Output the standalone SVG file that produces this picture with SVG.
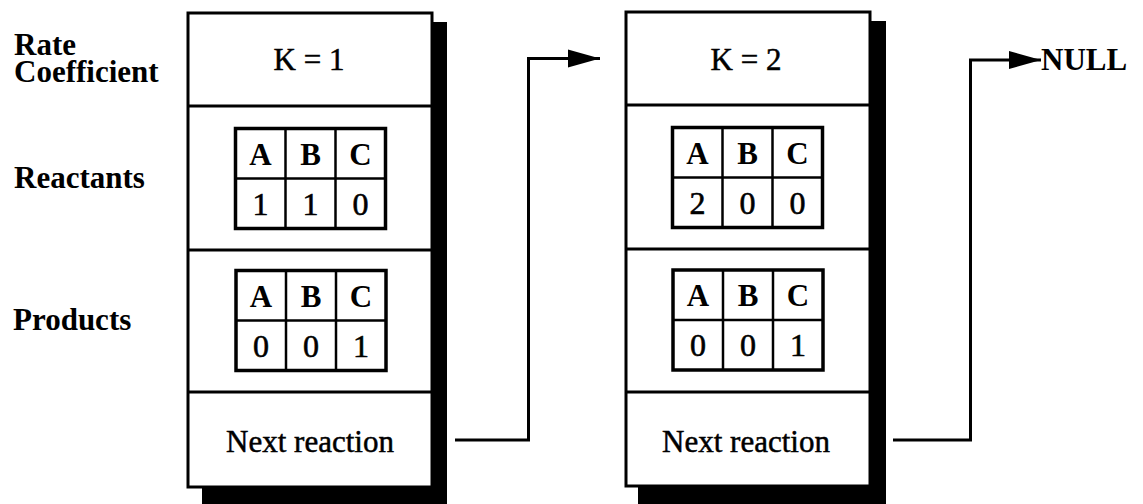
<svg xmlns="http://www.w3.org/2000/svg" width="1143" height="504" viewBox="0 0 1143 504">
  <style>
    .frame { fill: #fff; stroke: #000; stroke-width: 3; }
    .divider { stroke: #000; stroke-width: 3; }
    .shadow { fill: #000; }
    .tbl { fill: #fff; stroke: #000; stroke-width: 3.5; }
    .grid { stroke: #000; stroke-width: 2.5; }
    .wire { fill: none; stroke: #000; stroke-width: 3; }
    .label { font-family: "Liberation Serif", "Times New Roman", serif; font-weight: bold; font-size: 31px; fill: #000; }
    .val { font-family: "Liberation Serif", "Times New Roman", serif; font-size: 31px; fill: #000; stroke: #000; stroke-width: 0.5; text-anchor: middle; }
    .head { font-family: "Liberation Serif", "Times New Roman", serif; font-weight: bold; font-size: 31px; fill: #000; text-anchor: middle; }
    .num { font-family: "Liberation Serif", "Times New Roman", serif; font-size: 32px; fill: #000; stroke: #000; stroke-width: 0.6; text-anchor: middle; }
  </style>
  <defs>
    <marker id="arrow" markerWidth="32" markerHeight="20" refX="32" refY="10" orient="auto" markerUnits="userSpaceOnUse">
      <path d="M0,1 L32,10 L0,19 Z" fill="#000"/>
    </marker>
    <!-- 3x2 species table: header row A B C, counts below -->
    <g id="grid">
      <rect class="tbl" x="0" y="0" width="150" height="100"/>
      <line class="grid" x1="0" y1="50" x2="150" y2="50"/>
      <line class="grid" x1="50" y1="0" x2="50" y2="100"/>
      <line class="grid" x1="100" y1="0" x2="100" y2="100"/>
      <text class="head" x="25" y="36">A</text>
      <text class="head" x="75" y="36">B</text>
      <text class="head" x="125" y="36">C</text>
    </g>
  </defs>

  <!-- row labels -->
  <g id="row-labels">
    <text class="label"><tspan x="14" y="55">Rate</tspan><tspan x="14" y="82">Coefficient</tspan></text>
    <text class="label" x="14" y="188">Reactants</text>
    <text class="label" x="13" y="330">Products</text>
  </g>

  <!-- reaction record 1 -->
  <g id="reaction-1">
    <rect class="shadow" x="432" y="22" width="15" height="482"/>
    <rect class="shadow" x="202" y="487" width="245" height="17"/>
    <rect class="frame" x="188" y="13" width="244" height="474"/>
    <line class="divider" x1="188" y1="106" x2="432" y2="106"/>
    <line class="divider" x1="188" y1="250" x2="432" y2="250"/>
    <line class="divider" x1="188" y1="392" x2="432" y2="392"/>
    <text class="val" x="309" y="70">K = 1</text>
    <g transform="translate(235.5,128.5)">
      <use href="#grid"/>
      <text class="num" x="25" y="86">1</text>
      <text class="num" x="75" y="86">1</text>
      <text class="num" x="125" y="86">0</text>
    </g>
    <g transform="translate(236,270.5)">
      <use href="#grid"/>
      <text class="num" x="25" y="86">0</text>
      <text class="num" x="75" y="86">0</text>
      <text class="num" x="125" y="86">1</text>
    </g>
    <text class="val" x="310" y="452" font-size="32">Next reaction</text>
  </g>

  <!-- reaction record 2 -->
  <g id="reaction-2">
    <rect class="shadow" x="870" y="21" width="16" height="483"/>
    <rect class="shadow" x="638" y="486" width="248" height="18"/>
    <rect class="frame" x="626" y="12" width="244" height="474"/>
    <line class="divider" x1="626" y1="105" x2="870" y2="105"/>
    <line class="divider" x1="626" y1="249" x2="870" y2="249"/>
    <line class="divider" x1="626" y1="392" x2="870" y2="392"/>
    <text class="val" x="746" y="70">K = 2</text>
    <g transform="translate(672.5,127.5)">
      <use href="#grid"/>
      <text class="num" x="25" y="86">2</text>
      <text class="num" x="75" y="86">0</text>
      <text class="num" x="125" y="86">0</text>
    </g>
    <g transform="translate(673,270)">
      <use href="#grid"/>
      <text class="num" x="25" y="86">0</text>
      <text class="num" x="75" y="86">0</text>
      <text class="num" x="125" y="86">1</text>
    </g>
    <text class="val" x="746" y="452" font-size="32">Next reaction</text>
  </g>

  <!-- end-of-list marker -->
  <g id="null-end">
    <text class="label" x="1041" y="70" font-size="33">NULL</text>
  </g>

  <!-- next-reaction pointers -->
  <g id="connectors">
    <path class="wire" d="M455,440 H528.5 V58.5 H600" marker-end="url(#arrow)"/>
    <path class="wire" d="M893,440 H970.5 V60 H1041" marker-end="url(#arrow)"/>
  </g>
</svg>
